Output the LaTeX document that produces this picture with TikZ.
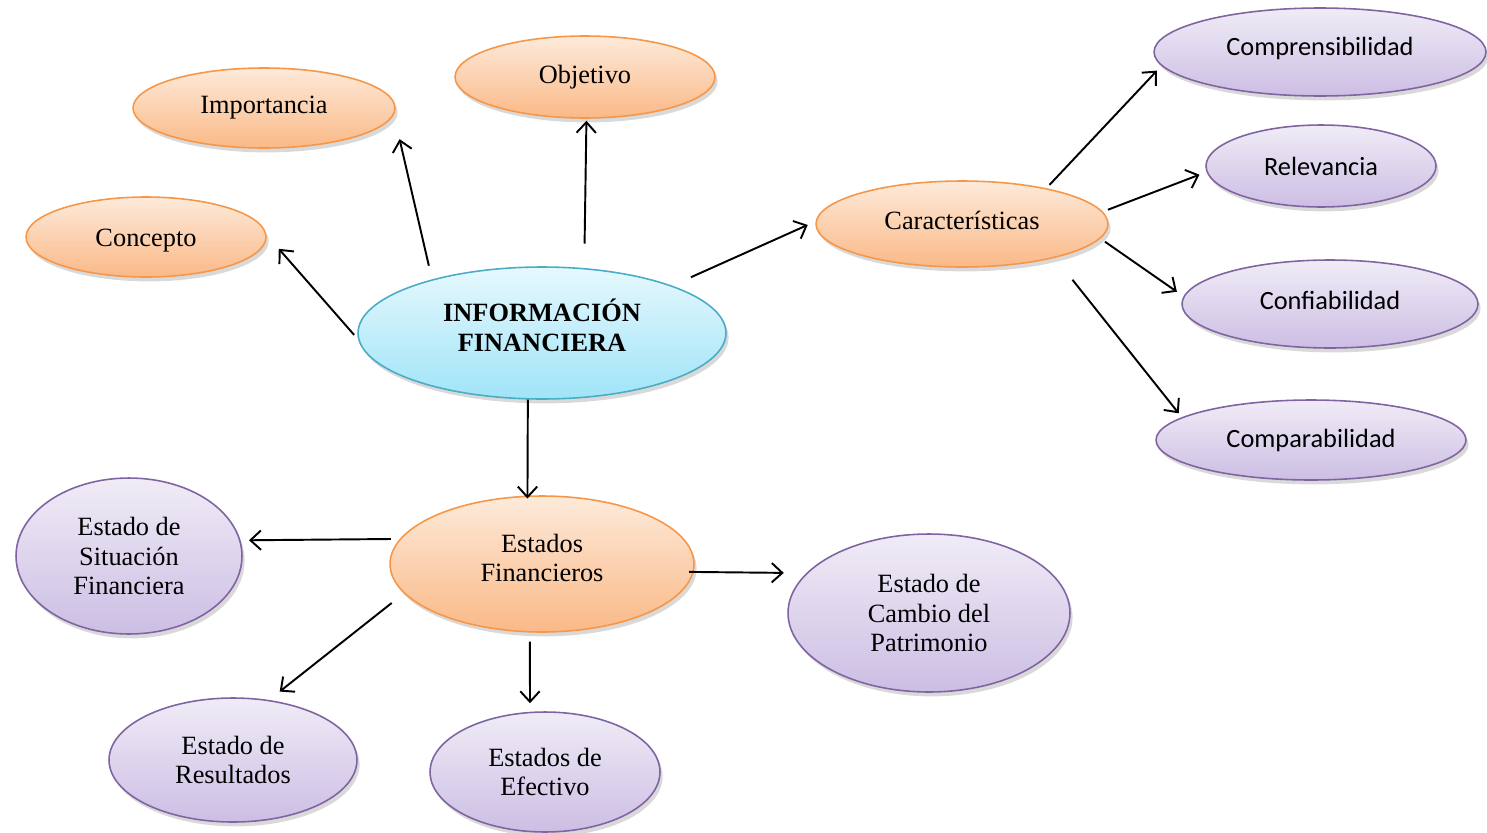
\documentclass[tikz,border=0pt]{standalone}
\usepackage{fontspec}
\setmainfont{Liberation Serif}
\newfontfamily\carlito{Carlito}
\usetikzlibrary{shapes.geometric,shadows,arrows.meta}

%% 颜色定义
\definecolor{orborde}{RGB}{247,150,70}
\definecolor{ortop}{RGB}{253,234,218}
\definecolor{orbot}{RGB}{250,185,135}
\definecolor{moborde}{RGB}{128,100,162}
\definecolor{motop}{RGB}{240,236,246}
\definecolor{mobot}{RGB}{204,190,228}
\definecolor{ceborde}{RGB}{75,172,198}
\definecolor{cetop}{RGB}{230,248,254}
\definecolor{cebot}{RGB}{160,228,248}

%% 样式定义
\tikzset{
  base/.style={ellipse, inner sep=1pt, align=center, line width=0.9pt,
    drop shadow={opacity=0.3, shadow xshift=1.5pt, shadow yshift=-2.5pt},
    font=\fontsize{15}{17}\selectfont},
  naranja/.style={base, draw=orborde, top color=ortop, bottom color=orbot},
  morado/.style={base, draw=moborde, top color=motop, bottom color=mobot},
  moradosans/.style={morado, font=\carlito\fontsize{15}{17}\selectfont},
  celeste/.style={base, draw=ceborde, top color=cetop, bottom color=cebot},
  flecha/.style={->, line width=1.1pt},
}

\begin{document}
\begin{tikzpicture}[x=0.02cm, y=-0.02cm, >={Straight Barb[length=6pt,width=11pt]}]
  \useasboundingbox (0,0) rectangle (1487,832);

  %% 中心节点
  \node[celeste, minimum width=7.36cm, minimum height=2.64cm, text depth=9pt] (info) at (542,333)
    {\textbf{INFORMACIÓN}\\\textbf{FINANCIERA}};

  %% 上方的节点
  \node[naranja, minimum width=4.8cm, minimum height=1.6cm, text height=13.5pt] (concepto) at (146,237) {Concepto};
  \node[naranja, minimum width=5.24cm, minimum height=1.6cm] (importancia) at (264,108) {Importancia};
  \node[naranja, minimum width=5.2cm, minimum height=1.64cm] (objetivo) at (585,77) {Objetivo};
  \node[naranja, minimum width=5.84cm, minimum height=1.72cm, text depth=4.5pt] (caract) at (962,224) {Características};

  %% 右侧的节点
  \node[moradosans, minimum width=6.64cm, minimum height=1.76cm, text depth=6pt] (compren) at (1320,52) {Comprensibilidad};
  \node[moradosans, minimum width=4.6cm, minimum height=1.64cm] (relev) at (1321,166) {Relevancia};
  \node[moradosans, minimum width=5.92cm, minimum height=1.76cm, text depth=4.5pt] (confia) at (1330,304) {Confiabilidad};
  \node[moradosans, minimum width=6.2cm, minimum height=1.6cm] (compara) at (1311,440) {Comparabilidad};

  %% 下方的节点
  \node[naranja, minimum width=6.08cm, minimum height=2.72cm, text depth=7pt] (estados) at (542,564) {Estados\\Financieros};
  \node[morado, minimum width=4.52cm, minimum height=3.12cm] (situacion) at (129,556) {Estado de\\Situación\\Financiera};
  \node[morado, minimum width=5.64cm, minimum height=3.16cm] (cambio) at (929,613) {Estado de\\Cambio del\\Patrimonio};
  \node[morado, minimum width=4.96cm, minimum height=2.48cm] (resultados) at (233,760) {Estado de\\Resultados};
  \node[morado, minimum width=4.6cm, minimum height=2.4cm] (efectivo) at (545,772) {Estados de\\Efectivo};

  %% 箭头
  \draw[flecha, shorten <=0.12cm, shorten >=0.37cm] (info.182) -- (concepto.1);
  \draw[flecha, shorten <=0.28cm, shorten >=0.5cm] (info.154.9) -- (importancia.-3.5);
  \draw[flecha, shorten <=0.49cm, shorten >=0.04cm] (info.57.9) -- (objetivo.-88.5);
  \draw[flecha, shorten <=0.41cm, shorten >=0.17cm] (info.20.7) -- (caract.179.5);
  \draw[flecha, shorten <=0.09cm, shorten >=0.13cm] (caract.23.9) -- (compren.-175.6);
  \draw[flecha, shorten <=0.11cm, shorten >=0.15cm] (caract.5.9) -- (relev.-177.2);
  \draw[flecha, shorten <=0.11cm, shorten >=0.16cm] (caract.-6.7) -- (confia.177.4);
  \draw[flecha, shorten <=0.56cm, shorten >=0.1cm] (caract.-20.5) -- (compara.170.9);
  \draw[flecha, shorten >=-0.06cm] (info.-102.8) -- (estados.102.5);
  \draw[flecha, shorten <=0.18cm, shorten >=0.17cm] (estados.170.4) -- (situacion.8.2);
  \draw[flecha, shorten <=-0.09cm, shorten >=0.45cm] (estados.-3.8) -- (cambio.162.4);
  \draw[flecha, shorten <=0.31cm, shorten >=0.27cm] (estados.-168.9) -- (resultados.59.2);
  \draw[flecha, shorten <=0.18cm, shorten >=0.17cm] (estados.-100) -- (efectivo.104.1);
\end{tikzpicture}
\end{document}
